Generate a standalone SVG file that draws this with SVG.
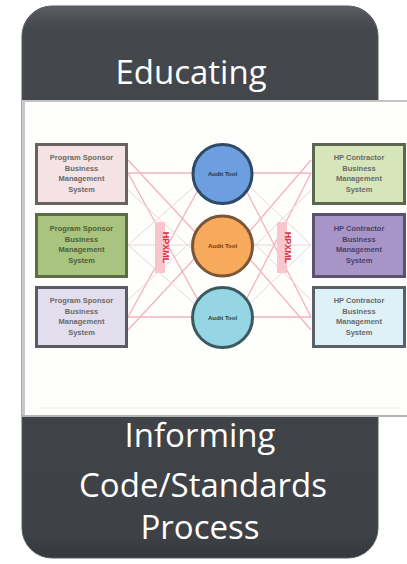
<svg xmlns="http://www.w3.org/2000/svg" width="407" height="564" viewBox="0 0 407 564">
<defs>
<linearGradient id="dark" x1="0" y1="0" x2="0" y2="1">
<stop offset="0" stop-color="#5a5d62"/>
<stop offset="0.04" stop-color="#44474c"/>
<stop offset="0.96" stop-color="#3e4146"/>
<stop offset="1" stop-color="#34373b"/>
</linearGradient>
</defs>
<style>
.head{font-family:"Open Sans","Liberation Sans",sans-serif;font-size:33px;fill:#ffffff;text-anchor:middle}
.box{stroke-width:3}
.bt{font-family:"Liberation Sans",Arial,sans-serif;font-size:7.5px;font-weight:bold;fill:#6a6a6a;text-anchor:middle}
.ct{font-family:"Liberation Sans",Arial,sans-serif;font-size:6px;font-weight:bold;text-anchor:middle}
.ln{stroke:#f4b3ba;stroke-width:1.3;fill:none}
.fl{stroke:#ead6d8;stroke-width:1;fill:none}
.hx{font-family:"Liberation Sans",Arial,sans-serif;font-size:9px;font-weight:bold;fill:#e0303f;text-anchor:middle}
</style>
<rect width="407" height="564" fill="#ffffff"/>
<g id="frame">
<rect x="22" y="6" width="356" height="552" rx="30" ry="30" fill="url(#dark)" stroke="#55585d" stroke-width="1"/>
</g>
<g id="educating">
<text class="head" x="191" y="84">Educating</text>
</g>
<g id="panel">
<rect x="22" y="100" width="385" height="317" fill="#fefefc"/>
<line x1="22" y1="101" x2="407" y2="101" stroke="#c4c4c4" stroke-width="2"/>
<line x1="23.5" y1="100" x2="23.5" y2="417" stroke="#c8c8c8" stroke-width="3"/>
<line x1="22" y1="416" x2="407" y2="416" stroke="#b4b4b4" stroke-width="2"/>
<line x1="38" y1="408" x2="400" y2="408" stroke="#f0f0ee" stroke-width="1"/>
</g>
<g id="connectors">
<line class="fl" x1="128" y1="245" x2="192" y2="245"/>
<line class="fl" x1="252" y1="245" x2="311" y2="245"/>
<line class="ln" x1="128" y1="173" x2="193" y2="173"/>
<line class="ln" x1="252" y1="173" x2="311" y2="173"/>
<line class="ln" x1="128" y1="317" x2="193" y2="317"/>
<line class="ln" x1="252" y1="317" x2="311" y2="317"/>
<line class="ln" x1="128" y1="173" x2="198" y2="300"/>
<line class="ln" x1="128" y1="317" x2="198" y2="190"/>
<line class="ln" x1="128" y1="160" x2="195" y2="232"/>
<line class="ln" x1="128" y1="330" x2="195" y2="258"/>
<line class="fl" x1="128" y1="245" x2="196" y2="185"/>
<line class="fl" x1="128" y1="245" x2="196" y2="305"/>
<line class="fl" x1="128" y1="190" x2="193" y2="250"/>
<line class="fl" x1="128" y1="300" x2="193" y2="240"/>
<line class="ln" x1="311" y1="173" x2="246" y2="300"/>
<line class="ln" x1="311" y1="317" x2="246" y2="190"/>
<line class="ln" x1="311" y1="160" x2="249" y2="232"/>
<line class="ln" x1="311" y1="330" x2="249" y2="258"/>
<line class="fl" x1="311" y1="245" x2="248" y2="185"/>
<line class="fl" x1="311" y1="245" x2="248" y2="305"/>
<line class="fl" x1="311" y1="190" x2="251" y2="250"/>
<line class="fl" x1="311" y1="300" x2="251" y2="240"/>
</g>
<g id="hpxml-left">
<rect x="155" y="222" width="10" height="51" fill="#f8c6cc"/>
<text class="hx" transform="translate(163.2,247.5) rotate(90)">HPXML</text>
</g>
<g id="hpxml-right">
<rect x="277" y="222" width="10" height="51" fill="#f8c6cc"/>
<text class="hx" transform="translate(285.2,247.5) rotate(90)">HPXML</text>
</g>
<g id="sponsor1">
<rect class="box" x="36.5" y="144.5" width="90" height="59" fill="#f4e2e5" stroke="#6a6262"/>
<text class="bt" x="81.5" y="160">Program Sponsor</text>
<text class="bt" x="81.5" y="170.5">Business</text>
<text class="bt" x="81.5" y="181">Management</text>
<text class="bt" x="81.5" y="191.5">System</text>
</g>
<g id="sponsor2">
<rect class="box" x="36.5" y="214.5" width="90" height="62" fill="#a9c47f" stroke="#5c6b48"/>
<text class="bt" x="81.5" y="231" style="fill:#4e5e38">Program Sponsor</text>
<text class="bt" x="81.5" y="241.5" style="fill:#4e5e38">Business</text>
<text class="bt" x="81.5" y="252" style="fill:#4e5e38">Management</text>
<text class="bt" x="81.5" y="262.5" style="fill:#4e5e38">System</text>
</g>
<g id="sponsor3">
<rect class="box" x="36.5" y="287.5" width="90" height="59" fill="#e2deee" stroke="#5b5b62"/>
<text class="bt" x="81.5" y="303">Program Sponsor</text>
<text class="bt" x="81.5" y="313.5">Business</text>
<text class="bt" x="81.5" y="324">Management</text>
<text class="bt" x="81.5" y="334.5">System</text>
</g>
<g id="tool1">
<circle cx="222.5" cy="174" r="29.5" fill="#6c9ee0" stroke="#2f4a66" stroke-width="3"/>
<text class="ct" x="222.5" y="176" fill="#1d3350">Audit Tool</text>
</g>
<g id="tool2">
<circle cx="222.5" cy="246" r="30" fill="#f7a95c" stroke="#7a5638" stroke-width="3"/>
<text class="ct" x="222.5" y="248" fill="#6a3d12">Audit Tool</text>
</g>
<g id="tool3">
<circle cx="222.5" cy="317.5" r="30" fill="#96d5e4" stroke="#3b5a60" stroke-width="3"/>
<text class="ct" x="222.5" y="319.5" fill="#24424a">Audit Tool</text>
</g>
<g id="contractor1">
<rect class="box" x="313.5" y="144.5" width="91" height="59" fill="#d6e5ba" stroke="#5c6650"/>
<text class="bt" x="359" y="160">HP Contractor</text>
<text class="bt" x="359" y="170.5">Business</text>
<text class="bt" x="359" y="181">Management</text>
<text class="bt" x="359" y="191.5">System</text>
</g>
<g id="contractor2">
<rect class="box" x="313.5" y="214.5" width="91" height="62" fill="#a895c8" stroke="#5a5270"/>
<text class="bt" x="359" y="231" style="fill:#4a3f66">HP Contractor</text>
<text class="bt" x="359" y="241.5" style="fill:#4a3f66">Business</text>
<text class="bt" x="359" y="252" style="fill:#4a3f66">Management</text>
<text class="bt" x="359" y="262.5" style="fill:#4a3f66">System</text>
</g>
<g id="contractor3">
<rect class="box" x="313.5" y="287.5" width="91" height="59" fill="#def1f6" stroke="#5a6065"/>
<text class="bt" x="359" y="303">HP Contractor</text>
<text class="bt" x="359" y="313.5">Business</text>
<text class="bt" x="359" y="324">Management</text>
<text class="bt" x="359" y="334.5">System</text>
</g>
<g id="informing">
<text class="head" x="200" y="447">Informing</text>
<text class="head" x="203" y="497">Code/Standards</text>
<text class="head" x="200" y="539">Process</text>
</g>
</svg>
